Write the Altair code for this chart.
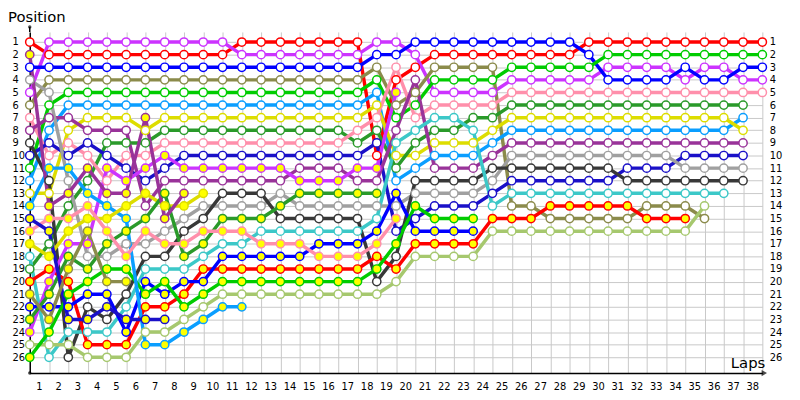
import altair as alt
import pandas as pd

N = None
laps = list(range(0, 39))
lap_labels = list(range(1, 39))
pos_labels = list(range(1, 27))

# ---- positions per lap (lap 0 .. 38) ----
R_w  = [1,2,2,2,2,2,2,2,2,2,2,1,1,1,1,1,1,1,10,4,3,2,2,2,2,2,2,2,2,1,1,1,1,1,1,1,1,1,1]
V_w  = [5,1,1,1,1,1,1,1,1,1,1,2,2,2,2,2,2,2,1,1,2,5,5,5,5,4,4,4,4,4,3,3,3,3,4,3,3,4,4]
B_w  = [3,3,3,3,3,3,3,3,3,3,3,3,3,3,3,3,3,3,2,2,1,1,1,1,1,1,1,1,1,2,4,4,4,4,3,4,4,3,3]
O_w  = [6,4,4,4,4,4,4,4,4,4,4,4,4,4,4,4,4,4,3,6,5,3,3,3,3,14,14,15,15,15,15,15,14,14,14,15,N,N,N]
G_w  = [11,6,5,5,5,5,5,5,5,5,5,5,5,5,5,5,5,5,4,7,6,4,4,4,4,3,3,3,3,3,2,2,2,2,2,2,2,2,2]
LB_w = [12,8,6,6,6,6,6,6,6,6,6,6,6,6,6,6,6,6,5,12,11,10,10,10,9,8,8,8,8,8,8,8,8,8,8,8,8,7,N]
Y_w  = [13,13,8,7,7,7,8,7,7,7,7,7,7,7,7,7,7,7,6,10,10,9,9,9,8,7,7,7,7,7,7,7,7,7,7,7,7,8,N]
DG_w = [19,17,14,12,9,9,9,8,8,8,8,8,8,8,8,8,8,9,8,11,9,8,8,7,7,6,6,6,6,6,6,6,6,6,6,6,6,6,N]
P_w  = [7,10,9,10,12,10,10,9,9,9,9,9,9,9,9,9,9,8,7,3,7,6,6,6,6,5,5,5,5,5,5,5,5,5,5,5,5,5,5]
DB_w = [10,9,10,9,10,11,12,11,10,10,10,10,10,10,10,10,10,10,9,16,15,14,14,14,13,12,12,12,12,12,12,11,11,11,10,10,10,10,N]
PU_w = [8,7,7,8,8,8,14,12,12,12,12,12,12,12,11,11,11,12,12,8,4,11,11,11,10,9,9,9,9,9,9,9,9,9,9,9,9,9,N]
GR_w = [4,5,12,18,18,17,17,16,15,14,14,14,14,13,14,14,14,14,14,14,13,13,13,13,12,10,10,10,10,10,10,10,10,10,11,11,11,11,N]
DK_w = [9,12,26,22,23,21,18,18,16,15,13,13,13,15,15,15,15,15,20,18,12,12,12,12,11,11,11,11,11,11,11,12,12,12,12,12,12,12,N]
C_w  = [18,26,24,24,24,22,19,19,19,18,17,17,16,16,16,16,16,16,15,9,8,7,7,8,14,13,13,13,13,13,13,13,13,13,13,13,13,N,N]
LG_w = [25,25,25,26,26,26,24,24,23,22,21,21,21,21,21,21,21,21,21,20,18,18,18,18,16,16,16,16,16,16,16,16,16,16,16,14,N,N,N]
R_y  = [20,19,20,25,25,25,22,22,21,19,19,19,19,19,19,19,19,19,18,19,17,17,17,17,15,15,15,14,14,14,14,14,15,15,15,N,N,N,N]
V_y  = [24,20,17,17,11,12,11,10,11,11,11,11,11,11,12,12,12,11,11,5,N,N,N,N,N,N,N,N,N,N,N,N,N,N,N,N,N,N,N]
B_y  = [22,22,22,21,21,24,20,21,20,20,18,18,18,18,18,17,17,17,16,13,16,16,16,16,N,N,N,N,N,N,N,N,N,N,N,N,N,N,N]
G_y  = [26,24,21,20,19,19,21,20,22,21,20,20,20,20,20,20,20,20,19,17,14,15,15,15,N,N,N,N,N,N,N,N,N,N,N,N,N,N,N]
LB_y = [14,11,11,13,14,15,25,25,24,23,22,22,N,N,N,N,N,N,N,N,N,N,N,N,N,N,N,N,N,N,N,N,N,N,N,N,N,N,N]
Y_y  = [17,18,16,15,15,14,13,14,14,13,N,N,N,N,N,N,N,N,N,N,N,N,N,N,N,N,N,N,N,N,N,N,N,N,N,N,N,N,N]
DG_y = [23,21,18,19,17,16,15,13,18,17,15,15,15,14,13,13,13,13,13,N,N,N,N,N,N,N,N,N,N,N,N,N,N,N,N,N,N,N,N]
P_y  = [16,15,15,14,16,18,16,17,17,16,16,16,17,17,17,18,18,18,17,15,N,N,N,N,N,N,N,N,N,N,N,N,N,N,N,N,N,N,N]
DB_y = [15,16,23,23,22,23,23,23,N,N,N,N,N,N,N,N,N,N,N,N,N,N,N,N,N,N,N,N,N,N,N,N,N,N,N,N,N,N,N]
PU_y = [2,14,13,11,13,13,7,15,13,N,N,N,N,N,N,N,N,N,N,N,N,N,N,N,N,N,N,N,N,N,N,N,N,N,N,N,N,N,N]
O_y  = [21,23,19,16,20,20,N,N,N,N,N,N,N,N,N,N,N,N,N,N,N,N,N,N,N,N,N,N,N,N,N,N,N,N,N,N,N,N,N]

car_names = ["R_w","V_w","B_w","O_w","G_w","LB_w","Y_w","DG_w","P_w","DB_w","PU_w","GR_w","DK_w",
             "C_w","LG_w","R_y","V_y","B_y","G_y","LB_y","Y_y","DG_y","P_y","DB_y","PU_y","O_y"]
car_positions = [R_w,V_w,B_w,O_w,G_w,LB_w,Y_w,DG_w,P_w,DB_w,PU_w,GR_w,DK_w,
                 C_w,LG_w,R_y,V_y,B_y,G_y,LB_y,Y_y,DG_y,P_y,DB_y,PU_y,O_y]

team_colors = {
    "R": "#ff0000", "V": "#cc33ff", "B": "#0000ff", "O": "#8b8b4b", "G": "#00cc00",
    "LB": "#0a9eff", "Y": "#dddd00", "DG": "#2a9a2a", "P": "#ff8fab", "DB": "#1a10c8",
    "PU": "#993399", "GR": "#a0a0a0", "DK": "#383838", "C": "#3cc8c8", "LG": "#a6c86e",
}
fills = {"w": "#ffffff", "y": "#ffff00"}

rows = []
for name, pos in zip(car_names, car_positions):
    team, f = name.split("_")
    for lap, p in zip(laps, pos):
        if p is not None:
            rows.append({"car": name, "lap": lap, "pos": p,
                         "stroke": team_colors[team], "fill": fills[f]})
df = pd.DataFrame(rows)
lab_df = pd.DataFrame({"lap": lap_labels})

W, H = 741, 345
xscale = alt.Scale(domain=[0, 38], nice=False, zero=False)
yscale = alt.Scale(domain=[0.2, 27.25], reverse=True, nice=False, zero=False)
FONT = "DejaVu Sans"

xaxis = alt.Axis(values=lap_labels, grid=True, gridColor="#c8c8c8", gridWidth=1,
                 ticks=False, tickSize=0, domainColor="#000000", domainWidth=1.5,
                 labels=False, title=None)
yaxis_l = alt.Axis(values=pos_labels, grid=True, gridColor="#c8c8c8", gridWidth=1,
                   ticks=False, tickSize=0, domainColor="#000000", domainWidth=1.5,
                   labelAlign="left", labelPadding=18, labelFont=FONT, labelFontSize=10,
                   labelColor="#000000", title=None, labelOverlap=False, labelFlush=False)
yaxis_r = alt.Axis(values=pos_labels, grid=False, ticks=False, tickSize=0, domain=False,
                   orient="right", labelAlign="left", labelPadding=7, labelFont=FONT,
                   labelFontSize=10, labelColor="#000000", title=None, labelOverlap=False,
                   labelFlush=False)

base = alt.Chart(df)
lines = base.mark_line(strokeWidth=3.5).encode(
    x=alt.X("lap:Q", scale=xscale, axis=xaxis),
    y=alt.Y("pos:Q", scale=yscale, axis=yaxis_l),
    stroke=alt.Stroke("stroke:N", scale=None),
    detail="car:N",
    order="lap:Q",
)
points = base.mark_point(shape="circle", size=70, strokeWidth=1.5, opacity=1, filled=False).encode(
    x=alt.X("lap:Q", scale=xscale, axis=xaxis),
    y=alt.Y("pos:Q", scale=yscale, axis=None),
    stroke=alt.Stroke("stroke:N", scale=None),
    fill=alt.Fill("fill:N", scale=None),
)
right = base.mark_point(opacity=0).encode(
    x=alt.X("lap:Q", scale=xscale, axis=xaxis),
    y=alt.Y("pos:Q", scale=yscale, axis=yaxis_r),
)
xlabels = alt.Chart(lab_df).transform_calculate(xm="datum.lap - 0.5").mark_text(
    font=FONT, fontSize=10, color="#000000", baseline="alphabetic", align="center").encode(
    x=alt.X("xm:Q", scale=xscale, axis=xaxis),
    y=alt.value(H + 17),
    text="lap:N",
)

deco = pd.DataFrame({"d": [0]})
pos_title = alt.Chart(deco).mark_text(text="Position", font=FONT, fontSize=15, align="left",
                                      baseline="alphabetic", color="#000000").encode(
    x=alt.value(-22), y=alt.value(-10))
laps_title = alt.Chart(deco).mark_text(text="Laps", font=FONT, fontSize=15, align="right",
                                       baseline="alphabetic", color="#000000").encode(
    x=alt.value(W + 3), y=alt.value(H - 5))
x_arrow = alt.Chart(deco).mark_point(shape="triangle-right", size=40, filled=True,
                                     color="#000000").encode(x=alt.value(W + 2), y=alt.value(H))
y_ext = alt.Chart(deco).mark_rule(color="#000000", strokeWidth=1.5).encode(
    x=alt.value(0), y=alt.value(-5), y2=alt.value(0))
y_dot = alt.Chart(deco).mark_point(shape="circle", size=12, filled=True, color="#000000").encode(
    x=alt.value(0), y=alt.value(-5))
o_dot = alt.Chart(deco).mark_point(shape="circle", size=12, filled=True, color="#000000").encode(
    x=alt.value(0), y=alt.value(H))

chart = alt.layer(lines, points, right, xlabels, pos_title, laps_title, x_arrow, y_ext, y_dot,
                  o_dot).resolve_scale(
    y="independent"
).properties(
    width=W, height=H,
    autosize=alt.AutoSizeParams(type="none"),
    padding={"left": 22, "top": 22, "right": 30, "bottom": 20},
    background="#ffffff",
).configure_view(stroke=None)

chart.save("out.html", embed_options={"renderer": "svg", "actions": False})
